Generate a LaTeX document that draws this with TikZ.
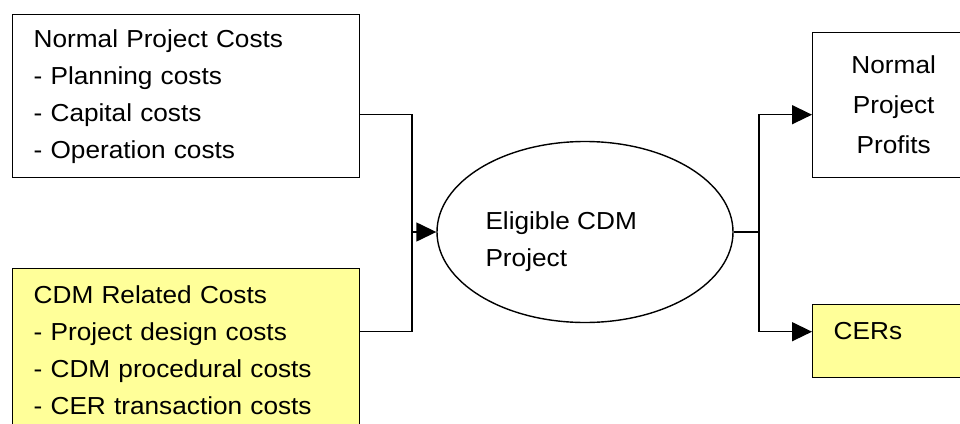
\documentclass[tikz,border=0pt]{standalone}
\usepackage{fontspec}
\newfontfamily\diagfont[FakeStretch=1.065]{Liberation Sans}
\usetikzlibrary{arrows.meta,shapes.geometric}
\definecolor{cdmyellow}{HTML}{FFFF99}

\begin{document}
\begin{tikzpicture}[x=1pt,y=-1pt,
    every node/.style={font=\diagfont\fontsize{24.6}{37}\selectfont},
    costbox/.style={draw, line width=1.4pt, rectangle, align=left, inner xsep=21pt,
      text width=305pt, minimum height=163pt, anchor=north west},
    outbox/.style={draw, line width=1.4pt, rectangle, inner xsep=21pt,
      text width=120pt, anchor=north west},
    flow/.style={line width=1.4pt},
    tip/.style={flow, -{Triangle[length=20pt,width=19pt]}}]

        \useasboundingbox (0,0) rectangle (960,423);
        \clip (0,0) rectangle (960,423);

        % cost inputs
        \node[costbox] (normcost) at (12,14)
          {Normal Project Costs\\- Planning costs\\- Capital costs\\- Operation costs};
        \node[costbox, fill=cdmyellow] (cdmcost) at (12,268)
          {CDM Related Costs\\- Project design costs\\- CDM procedural costs\\- CER transaction costs};

        % project
        \node[draw, ellipse, line width=1.4pt, minimum width=296pt, minimum height=181pt] (cdm) at (585,232) {};
        \node[align=left, anchor=west, inner sep=0pt] (cdmlabel) at ([xshift=49pt,yshift=-10pt]cdm.west)
          {Eligible CDM\\Project};

        % outputs
        \node[outbox, align=center, minimum height=145pt,
          font=\diagfont\fontsize{24.6}{40}\selectfont] (profits) at (812,32)
          {Normal\\Project\\Profits};
        \node[outbox, fill=cdmyellow, align=left, inner ysep=0pt,
          text height=35pt, text depth=38pt] (cers) at (812,304) {CERs};

        \coordinate (merge) at (412,232);
        \coordinate (split) at (759,232);

        \draw[flow] ([yshift=-18.5pt]normcost.east) -| (merge);
        \draw[flow] ([yshift=18.5pt]cdmcost.east) -| (merge);
        \draw[tip]  (merge) -- (cdm.west);
        \draw[flow] (cdm.east) -- (split);
        \draw[tip]  (split) |- ([yshift=-9.5pt]profits.west);
        \draw[tip]  (split) |- ([yshift=9.5pt]cers.west);

      \end{tikzpicture}
\end{document}
